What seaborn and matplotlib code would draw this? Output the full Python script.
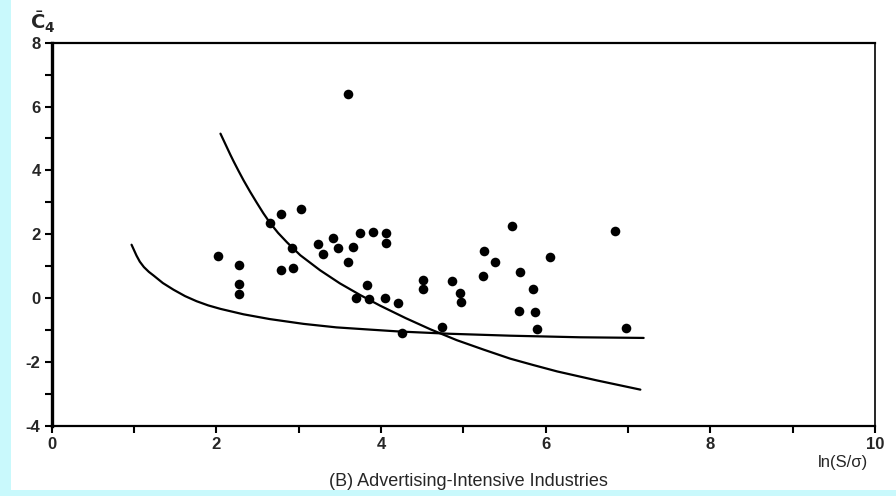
import numpy as np
import pandas as pd
import matplotlib
matplotlib.use("Agg")
import matplotlib.pyplot as plt
import seaborn as sns
from matplotlib.patches import Rectangle

# ---- data ----
pts_x = [2.02, 2.27, 2.28, 2.27, 2.79, 3.03, 2.65, 2.92, 2.79, 2.93,
         3.23, 3.30, 3.42, 3.48, 3.66, 3.60, 3.75, 3.90, 4.06, 4.06,
         3.83, 3.70, 3.85, 4.05, 4.21, 4.26, 4.51, 4.51, 4.74, 4.86,
         4.96, 4.97, 5.59, 5.25, 5.39, 6.05, 5.24, 5.69, 5.85, 5.68,
         5.87, 5.89, 6.84, 6.97, 3.60]
pts_y = [1.33, 1.03, 0.43, 0.14, 2.63, 2.79, 2.34, 1.58, 0.88, 0.95,
         1.70, 1.39, 1.89, 1.57, 1.59, 1.12, 2.04, 2.06, 2.04, 1.72,
         0.41, -0.01, -0.02, -0.01, -0.17, -1.08, 0.57, 0.28, -0.92, 0.52,
         0.16, -0.12, 2.27, 1.47, 1.12, 1.29, 0.68, 0.82, 0.29, -0.42,
         -0.45, -0.97, 2.11, -0.95, 6.40]

curve1_x = [0.97, 1.00, 1.03, 1.07, 1.12, 1.18, 1.24, 1.35, 1.48, 1.62,
            1.76, 1.90, 2.05, 2.33, 2.65, 3.06, 3.46, 3.87, 4.23, 4.84,
            5.57, 6.42, 7.19]
curve1_y = [1.67, 1.50, 1.33, 1.14, 0.97, 0.82, 0.70, 0.47, 0.26, 0.06,
            -0.10, -0.23, -0.34, -0.51, -0.66, -0.81, -0.92, -0.99, -1.05, -1.12,
            -1.18, -1.23, -1.25]

curve2_x = [2.05, 2.09, 2.13, 2.17, 2.21, 2.27, 2.33, 2.41, 2.49, 2.57,
            2.65, 2.75, 2.86, 3.02, 3.26, 3.50, 3.75, 3.99, 4.30, 4.60,
            4.92, 5.25, 5.57, 5.85, 6.14, 6.62, 7.15]
curve2_y = [5.15, 4.93, 4.71, 4.49, 4.28, 3.98, 3.69, 3.33, 2.99, 2.66,
            2.36, 2.04, 1.74, 1.34, 0.87, 0.46, 0.09, -0.24, -0.63, -0.98,
            -1.32, -1.62, -1.90, -2.10, -2.30, -2.58, -2.87]

x_ticks = [0, 1, 2, 3, 4, 5, 6, 7, 8, 9, 10]
x_labels = ["0", "", "2", "", "4", "", "6", "", "8", "", "10"]
y_ticks = [-4, -3, -2, -1, 0, 1, 2, 3, 4, 5, 6, 7, 8]
y_labels = ["-4", "", "-2", "", "0", "", "2", "", "4", "", "6", "", "8"]

sns.set_theme(style="white")
plt.rcParams['font.family'] = ['Liberation Sans', 'DejaVu Sans']

fig = plt.figure(figsize=(8.96, 4.96), dpi=100)
fig.patch.set_facecolor("white")
cyan = "#c9f9fc"
fig.patches.append(Rectangle((0, 0), 11/896, 1, transform=fig.transFigure,
                             facecolor=cyan, edgecolor="none", zorder=-10))
fig.patches.append(Rectangle((0, 0), 1, 6/496, transform=fig.transFigure,
                             facecolor=cyan, edgecolor="none", zorder=-10))

ax = fig.add_axes([51.7/896, 1 - 425.7/496, (875 - 51.7)/896, (425.7 - 42.7)/496])

df_pts = pd.DataFrame({"x": pts_x, "y": pts_y})
df_c1 = pd.DataFrame({"x": curve1_x, "y": curve1_y})
df_c2 = pd.DataFrame({"x": curve2_x, "y": curve2_y})

sns.lineplot(data=df_c1, x="x", y="y", ax=ax, color="black", lw=1.6,
             sort=False, estimator=None)
sns.lineplot(data=df_c2, x="x", y="y", ax=ax, color="black", lw=1.6,
             sort=False, estimator=None)
sns.scatterplot(data=df_pts, x="x", y="y", ax=ax, color="black", s=48,
                marker="o", edgecolor="black", linewidth=0)

ax.set_xlim(0, 10)
ax.set_ylim(-4, 8)
ax.set_xticks(x_ticks)
ax.set_xticklabels(x_labels, fontsize=12, fontweight="bold")
ax.set_yticks(y_ticks)
ax.set_yticklabels(y_labels, fontsize=12, fontweight="bold")
ax.tick_params(axis="both", direction="out", length=5, width=1.5,
               color="black", pad=3, bottom=True, left=True)
ax.set_xlabel("")
ax.set_ylabel("")
for s in ax.spines.values():
    s.set_color("black")
    s.set_linewidth(1.6)
ax.spines["left"].set_linewidth(2.4)
ax.spines["right"].set_linewidth(1.2)

fig.text(30/896, 1 - 22/496, r"$\bar{\mathbf{C}}_{\mathbf{4}}$", fontsize=14,
         ha="left", va="center")
fig.text(843/896, 1 - 463/496, "ln(S/σ)", fontsize=12, ha="center", va="center")
fig.text(468/896, 1 - 482/496, "(B) Advertising-Intensive Industries",
         fontsize=13, ha="center", va="center")

fig.savefig("out.png", dpi=100)
